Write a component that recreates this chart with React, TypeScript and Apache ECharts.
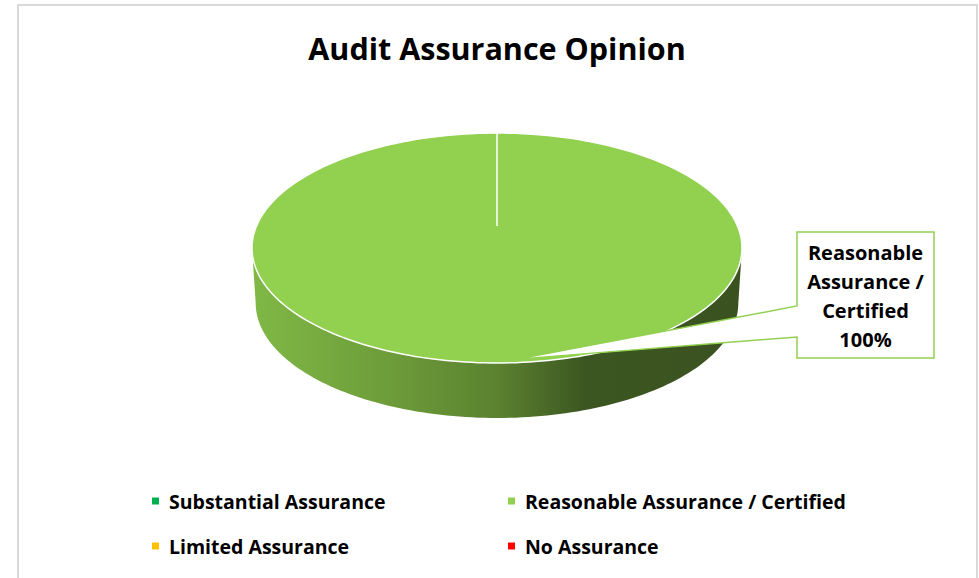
import React, { useEffect, useRef } from "react";
import * as echarts from "echarts";

// ---- data ----
const titleText = "Audit Assurance Opinion";
const categories = [
  "Substantial Assurance",
  "Reasonable Assurance / Certified",
  "Limited Assurance",
  "No Assurance",
];
const values = [0, 100, 0, 0];
const colors = ["#00B050", "#92D050", "#FFC000", "#FF0000"];
const legendColumnA = [categories[0], categories[2]];
const legendColumnB = [categories[1], categories[3]];

const FONT = "'Open Sans', Lato, sans-serif";

function wrapWords(text: string, maxChars: number): string {
  const words = text.split(" ");
  const lines: string[] = [];
  let cur = "";
  for (const w of words) {
    if (!cur) cur = w;
    else if ((cur + " " + w).length <= maxChars) cur = cur + " " + w;
    else {
      lines.push(cur);
      cur = w;
    }
  }
  if (cur) lines.push(cur);
  return lines.join("\n");
}

export default function App() {
  const ref = useRef<HTMLDivElement>(null);

  useEffect(() => {
    if (!ref.current) return;
    const chart = echarts.init(ref.current, undefined, { renderer: "svg" });

    const total = values.reduce((a, b) => a + b, 0);
    const starts = values.map((_, i) => values.slice(0, i).reduce((a, b) => a + b, 0));

    const geo = { cx: 497, cy: 248, rx: 245, ry: 115, depth: 55, apexY: 226 };

    const pt = (th: number, rx: number, ry: number, cx: number, cy: number) => {
      const r = (th * Math.PI) / 180;
      return [cx + rx * Math.sin(r), cy - ry * Math.cos(r)];
    };
    const arc = (a0: number, a1: number, rx: number, ry: number, cx: number, cy: number) => {
      const n = Math.max(2, Math.ceil(Math.abs(a1 - a0) / 1.5));
      const out: number[][] = [];
      for (let k = 0; k <= n; k++) out.push(pt(a0 + ((a1 - a0) * k) / n, rx, ry, cx, cy));
      return out;
    };

    const sideGradient = {
      type: "linear",
      x: geo.cx - geo.rx,
      y: 0,
      x2: geo.cx + geo.rx,
      y2: 0,
      global: true,
      colorStops: [
        { offset: 0, color: "#80b946" },
        { offset: 0.3, color: "#6c9a39" },
        { offset: 0.5, color: "#5b8230" },
        { offset: 0.68, color: "#3c5621" },
        { offset: 1, color: "#3a5220" },
      ],
    };

    const renderItem = (params: any, api: any) => {
      const i = params.dataIndex;
      const v = api.value(0);
      if (!v || !total) return null;
      const { cx, cy, rx, ry, depth, apexY } = geo;
      const a0 = (starts[i] / total) * 360;
      const a1 = ((starts[i] + v) / total) * 360;
      const full = a1 - a0 >= 359.999;
      const children: any[] = [];

      const s0 = Math.max(a0, 90);
      const s1 = Math.min(a1, 270);
      if (s1 > s0) {
        const top = arc(s0, s1, rx, ry, cx, cy);
        const bot = arc(s1, s0, rx * 0.985, ry, cx, cy + depth);
        children.push({
          type: "polygon",
          shape: { points: top.concat(bot) },
          style: { fill: sideGradient },
        });
      }

      const topPts = full ? arc(0, 360, rx, ry, cx, cy) : [[cx, apexY]].concat(arc(a0, a1, rx, ry, cx, cy));
      children.push({
        type: "polygon",
        shape: { points: topPts },
        style: { fill: colors[i], stroke: "#ffffff", lineWidth: 1.5 },
      });
      const p0 = pt(a0, rx, ry, cx, cy);
      children.push({
        type: "line",
        shape: { x1: cx, y1: apexY, x2: p0[0], y2: p0[1] },
        style: { stroke: "#ffffff", lineWidth: 1.5 },
      });
      if (!full) {
        const p1 = pt(a1, rx, ry, cx, cy);
        children.push({
          type: "line",
          shape: { x1: cx, y1: apexY, x2: p1[0], y2: p1[1] },
          style: { stroke: "#ffffff", lineWidth: 1.5 },
        });
      }

      // callout label
      const mid = (a0 + a1) / 2;
      const tip = pt(mid - 5, rx * 0.97, ry * 0.97, cx, cy);
      const bl = cx + rx + 55;
      const bt = cy - 16;
      const bw = 137;
      const bh = 126;
      children.push({
        type: "polygon",
        shape: {
          points: [
            tip,
            [bl, bt + 74],
            [bl, bt],
            [bl + bw, bt],
            [bl + bw, bt + bh],
            [bl, bt + bh],
            [bl, bt + 105],
          ],
        },
        style: { fill: "#ffffff", stroke: colors[i], lineWidth: 1.5 },
      });
      const pct = Math.round((v / total) * 100) + "%";
      children.push({
        type: "text",
        x: bl + bw / 2,
        y: bt + bh / 2 + 1,
        style: {
          text: wrapWords(categories[i], 11) + "\n" + pct,
          fontFamily: FONT,
          fontWeight: "bold",
          fontSize: 20,
          lineHeight: 29,
          fill: "#000000",
          align: "center",
          verticalAlign: "middle",
        },
      });
      return { type: "group", children };
    };

    const legendCommon = {
      orient: "vertical",
      top: 491,
      padding: 0,
      icon: "rect",
      itemWidth: 7,
      itemHeight: 7,
      itemGap: 25,
      selectedMode: false,
      textStyle: {
        fontFamily: FONT,
        fontWeight: "bold",
        fontSize: 19.5,
        color: "#000000",
        lineHeight: 20,
        padding: [0, 0, 0, 5],
      },
    };

    chart.setOption({
      animation: false,
      backgroundColor: "#ffffff",
      graphic: [
        {
          type: "rect",
          shape: { x: 18, y: 5, width: 959, height: 600 },
          style: { fill: "none", stroke: "#d9d9d9", lineWidth: 2 },
          silent: true,
        },
        {
          type: "text",
          x: 497,
          y: 48,
          style: {
            text: titleText,
            fontFamily: FONT,
            fontWeight: "bold",
            fontSize: 30.5,
            fill: "#000000",
            align: "center",
            verticalAlign: "middle",
          },
        },
      ],
      legend: [
        { ...legendCommon, left: 152, data: legendColumnA },
        { ...legendCommon, left: 508, data: legendColumnB },
      ],
      series: [
        {
          type: "pie",
          name: "legendSource",
          radius: 0,
          center: [497, 248],
          silent: true,
          label: { show: false },
          labelLine: { show: false },
          data: categories.map((c, i) => ({ name: c, value: values[i], itemStyle: { color: colors[i] } })),
        },
        {
          type: "custom",
          name: "pie3d",
          coordinateSystem: "none",
          silent: true,
          renderItem,
          data: values.map((v) => [v]),
        },
      ],
    });

    return () => chart.dispose();
  }, []);

  return (
    <div
      ref={ref}
      style={{ position: "fixed", left: 0, top: 0, width: 979, height: 578, background: "#fff" }}
    />
  );
}
